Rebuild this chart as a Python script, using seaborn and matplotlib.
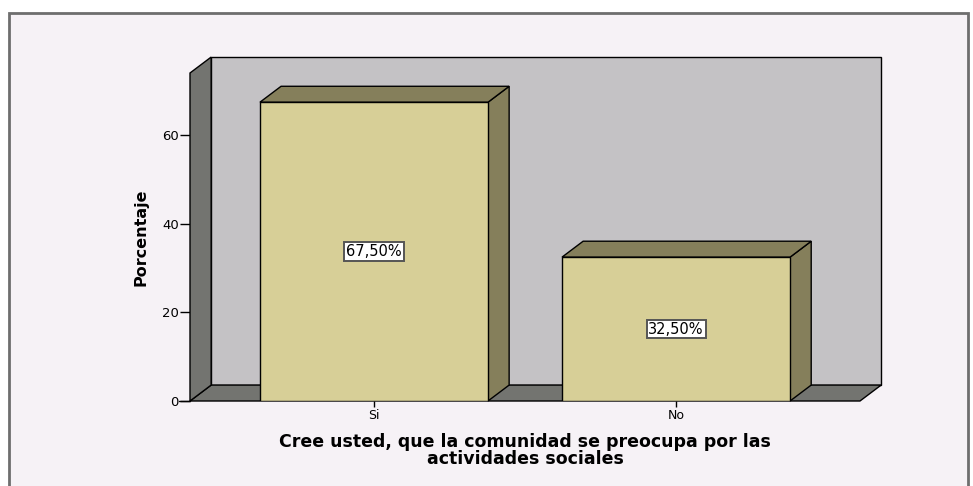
import pandas as pd
import seaborn as sns
import matplotlib.pyplot as plt
from matplotlib.patches import Polygon, Rectangle

categorias = ["Si", "No"]
porcentajes = [67.5, 32.5]
etiquetas = ["67,50%", "32,50%"]
yticks = [0, 20, 40, 60]

frente = "#d7cf97"
lado = "#857f5b"
pared = "#c4c2c5"
suelo = "#737470"

df = pd.DataFrame({"cat": categorias, "pct": porcentajes})

sns.set_style("white")
plt.rcParams["font.family"] = ["DejaVu Sans"]

fig = plt.figure(figsize=(9.73, 4.86), dpi=100, facecolor="white")
fig.patches.append(Rectangle((9 / 973, -0.01), 959 / 973, 473 / 486 + 0.01,
                             transform=fig.transFigure, facecolor="#f6f2f6",
                             edgecolor="#6e6e6e", lw=2, zorder=-10))
ax = fig.add_axes([190 / 973, 85 / 486, 670 / 973, 328 / 486])
ax.set_facecolor("none")

xmin, xmax = -0.609, 1.609
ytop = 74.1
dx, dy = 0.07, 3.6

sns.barplot(data=df, x="cat", y="pct", color=frente, saturation=1,
            width=0.755, edgecolor="black", linewidth=1, ax=ax, zorder=3)

# caja 3D: pared del fondo, suelo y pared izquierda
ax.add_patch(Polygon([(xmin + dx, dy), (xmax + dx, dy), (xmax + dx, ytop + dy), (xmin + dx, ytop + dy)],
                     closed=True, facecolor=pared, edgecolor="black", lw=1, clip_on=False, zorder=0))
ax.add_patch(Polygon([(xmin, 0), (xmax, 0), (xmax + dx, dy), (xmin + dx, dy)],
                     closed=True, facecolor=suelo, edgecolor="black", lw=1, clip_on=False, zorder=1))
ax.add_patch(Polygon([(xmin, 0), (xmin, ytop), (xmin + dx, ytop + dy), (xmin + dx, dy)],
                     closed=True, facecolor=suelo, edgecolor="black", lw=1, clip_on=False, zorder=1))

# caras laterales y superiores de las barras
for p, lab in zip(ax.patches[:len(categorias)], etiquetas):
    x0 = p.get_x()
    w = p.get_width()
    h = p.get_height()
    x1 = x0 + w
    ax.add_patch(Polygon([(x1, 0), (x1, h), (x1 + dx, h + dy), (x1 + dx, dy)],
                         closed=True, facecolor=lado, edgecolor="black", lw=1, clip_on=False, zorder=2))
    ax.add_patch(Polygon([(x0, h), (x1, h), (x1 + dx, h + dy), (x0 + dx, h + dy)],
                         closed=True, facecolor=lado, edgecolor="black", lw=1, clip_on=False, zorder=2))
    ax.text(x0 + w / 2, h / 2, lab, ha="center", va="center", fontsize=10.5, color="black", zorder=5,
            bbox=dict(boxstyle="square,pad=0.12", facecolor="white", edgecolor="#555555", lw=1.4))

ax.set_xlim(xmin, xmax)
ax.set_ylim(0, ytop)
ax.set_yticks(yticks)
for s in ax.spines.values():
    s.set_visible(False)
ax.tick_params(axis="y", direction="out", length=7, width=1, pad=1, labelsize=9.5, colors="black", left=True)
ax.tick_params(axis="x", direction="out", length=4, width=1, pad=2, labelsize=9, colors="black", bottom=True)
ax.plot([xmin - 0.035, xmin], [0, 0], color="black", lw=1, clip_on=False)

ax.set_ylabel("Porcentaje", fontsize=11.5, fontweight="bold", color="black", labelpad=10)
ax.set_xlabel("Cree usted, que la comunidad se preocupa por las\nactividades sociales",
              fontsize=12.5, fontweight="bold", color="black", linespacing=0.88, labelpad=8)

fig.savefig("out.png", dpi=100, facecolor="white")
